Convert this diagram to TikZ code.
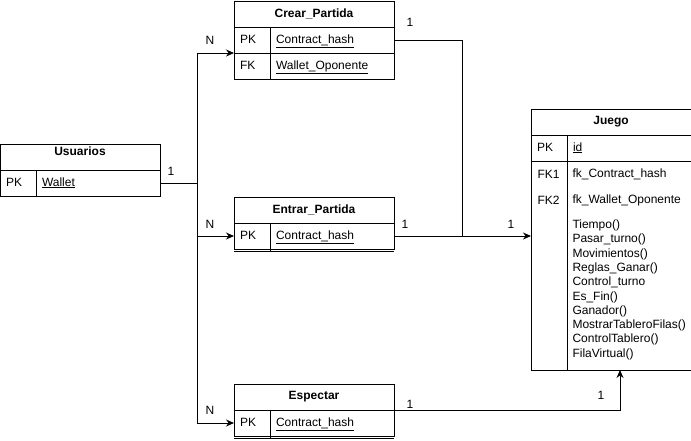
\documentclass[tikz,border=0pt]{standalone}
\usepackage{fontspec}
\setmainfont{Liberation Sans}
\usetikzlibrary{arrows.meta,positioning}

\tikzset{
  tabhead/.style={draw, anchor=north west, minimum width=160pt, minimum height=26pt, inner sep=0pt, outer sep=0pt, font=\bfseries},
  keycell/.style={draw, anchor=north west, text width=24pt, inner xsep=6pt, inner ysep=0pt, outer sep=0pt, minimum height=26pt, text height=9pt, text depth=3pt, align=left},
  fieldcell/.style={draw, anchor=north west, text width=112pt, inner xsep=6pt, inner ysep=0pt, outer sep=0pt, minimum height=26pt, text height=9pt, text depth=3pt, align=left},
  card/.style={inner sep=1pt}
}

\begin{document}
\fontsize{12}{14}\selectfont
\begin{tikzpicture}[x=1pt,y=-1pt,line width=1pt,>={Stealth[length=8pt,width=7pt]}]
   \useasboundingbox (0,0) rectangle (691,440);

   % tables
   \node[tabhead, text depth=12pt] (usr) at (0,144) {Usuarios};
   \node[keycell] (usrkey) at (usr.south west) {PK};
   \node[fieldcell] (usrwallet) at (usrkey.north east) {\underline{Wallet}};

   \node[tabhead] (cr) at (234,1) {Crear\_Partida};
   \node[keycell] (crkey) at (cr.south west) {PK};
   \node[fieldcell] (crhash) at (crkey.north east) {\underline{Contract\_hash}};
   \node[keycell] (crfk) at (crkey.south west) {FK};
   \node[fieldcell] (crwallet) at (crfk.north east) {\underline{Wallet\_Oponente}};

   \node[tabhead] (ent) at (234,197) {Entrar\_Partida};
   \node[keycell] (entkey) at (ent.south west) {PK};
   \node[fieldcell] (enthash) at (entkey.north east) {\underline{Contract\_hash}};
   \draw ([yshift=-2pt]entkey.south west) -- ([yshift=-2pt]enthash.south east);
   \draw (entkey.south east) -- ([yshift=-2pt]entkey.south east);

   \node[tabhead] (esp) at (234,384) {Espectar};
   \node[keycell] (espkey) at (esp.south west) {PK};
   \node[fieldcell] (esphash) at (espkey.north east) {\underline{Contract\_hash}};
   \draw ([yshift=-2pt]espkey.south west) -- ([yshift=-2pt]esphash.south east);
   \draw (espkey.south east) -- ([yshift=-2pt]espkey.south east);

   \node[tabhead] (jg) at (531,109) {Juego};
   \node[keycell] (jgkey) at (jg.south west) {PK};
   \node[fieldcell] (jgid) at (jgkey.north east) {\underline{id}};
   \node[keycell, minimum height=209pt] (jgbodykey) at (jgkey.south west) {};
   \node[fieldcell, minimum height=209pt] (jgbody) at (jgbodykey.north east) {};
   \node[card, anchor=west] (fk1) at (536,174) {FK1};
   \node[card, anchor=west] (fk1txt) at (571,174) {fk\_Contract\_hash};
   \node[card, anchor=west] (fk2) at (536,200) {FK2};
   \node[card, anchor=west] (fk2txt) at (571,200) {fk\_Wallet\_Oponente};
   \foreach \m [count=\i from 0] in {Tiempo(),Pasar\_turno(),Movimientos(),Reglas\_Ganar(),Control\_turno,Es\_Fin(),Ganador(),MostrarTableroFilas(),ControlTablero(),FilaVirtual()}
      \node[inner sep=0pt, anchor=base west] (m\i) at (572,{228.5+14.3*\i}) {\m};

   % connectors
   \coordinate (fork) at (197,183);
   \coordinate (merge) at (462,236);
   \coordinate (jgin) at (620,370);
   \draw (usrwallet.east) -- (fork);
   \draw[->] (fork) |- (crfk.north west);
   \draw[->] (fork) |- (entkey.west);
   \draw[->] (fork) |- (espkey.west);
   \draw (crhash.east) -| (merge);
   \draw[->] (enthash.east) -- (enthash.east -| jgbodykey.west);
   \draw[->] (esphash.north east) -| (jgin);

   % cardinalities
   \node[card] (cusr) at (171,171) {1};
   \node[card] (ncr) at (210,40) {N};
   \node[card] (ccr) at (410,22) {1};
   \node[card] (nent) at (210,224) {N};
   \node[card] (cent) at (405,224) {1};
   \node[card] (cjg) at (511,224) {1};
   \node[card] (nesp) at (210,410) {N};
   \node[card] (cesp) at (410,404) {1};
   \node[card] (cjgb) at (601,395) {1};
\end{tikzpicture}
\end{document}
